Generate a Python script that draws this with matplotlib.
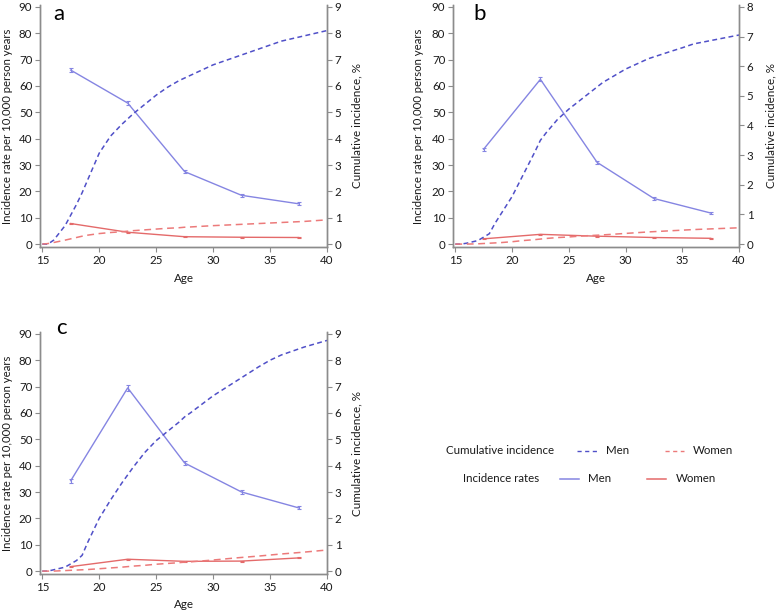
import matplotlib
matplotlib.use("Agg")
import matplotlib.pyplot as plt
from matplotlib.lines import Line2D

plt.rcParams['font.family'] = ['Lato', 'DejaVu Sans']

# ---- data ----
rate_ages = [17.5, 22.5, 27.5, 32.5, 37.5]

a_rate_men = [66.0, 53.5, 27.5, 18.5, 15.3]
a_rate_women = [7.8, 4.5, 2.8, 2.6, 2.5]
b_rate_men = [36.0, 62.5, 31.0, 17.3, 11.8]
b_rate_women = [2.0, 3.7, 3.0, 2.5, 2.2]
c_rate_men = [34.3, 69.5, 41.0, 30.0, 24.0]
c_rate_women = [1.7, 4.5, 3.7, 3.8, 5.0]

a_rate_men_err = [0.8, 0.8, 0.6, 0.5, 0.5]
a_rate_women_err = [0.3, 0.2, 0.2, 0.2, 0.2]
b_rate_men_err = [0.5, 0.8, 0.5, 0.4, 0.4]
b_rate_women_err = [0.2, 0.2, 0.2, 0.2, 0.2]
c_rate_men_err = [0.7, 1.0, 0.7, 0.6, 0.6]
c_rate_women_err = [0.2, 0.2, 0.2, 0.2, 0.2]

cum_ages = [15.0, 15.5, 16, 17, 18, 18.5, 19, 20, 21, 22, 22.5, 23, 24, 25, 26, 27, 27.5, 28, 30, 32, 34, 35, 36, 38, 40]
a_cum_men = [0.0, 0.0, 0.15, 0.7, 1.5, 1.95, 2.45, 3.45, 4.1, 4.55, 4.75, 4.95, 5.3, 5.65, 5.95, 6.2, 6.3, 6.4, 6.8, 7.1, 7.4, 7.55, 7.7, 7.9, 8.1]
a_cum_women = [0.0, 0.02, 0.06, 0.15, 0.25, 0.3, 0.34, 0.4, 0.44, 0.47, 0.49, 0.51, 0.54, 0.57, 0.6, 0.62, 0.64, 0.65, 0.7, 0.74, 0.78, 0.8, 0.82, 0.86, 0.92]
b_cum_men = [0.0, 0.0, 0.03, 0.12, 0.35, 0.7, 1.0, 1.6, 2.35, 3.1, 3.5, 3.75, 4.2, 4.55, 4.85, 5.15, 5.3, 5.45, 5.9, 6.25, 6.5, 6.62, 6.75, 6.9, 7.05]
b_cum_women = [0.0, 0.0, 0.0, 0.01, 0.03, 0.04, 0.05, 0.08, 0.12, 0.15, 0.17, 0.19, 0.22, 0.24, 0.27, 0.29, 0.3, 0.31, 0.36, 0.41, 0.45, 0.47, 0.49, 0.52, 0.55]
c_cum_men = [0.0, 0.0, 0.05, 0.15, 0.4, 0.6, 1.1, 2.0, 2.7, 3.35, 3.65, 3.95, 4.5, 4.95, 5.3, 5.65, 5.85, 6.0, 6.65, 7.2, 7.75, 8.0, 8.2, 8.5, 8.75]
c_cum_women = [0.0, 0.0, 0.0, 0.02, 0.04, 0.05, 0.06, 0.09, 0.12, 0.15, 0.17, 0.19, 0.22, 0.26, 0.29, 0.32, 0.34, 0.35, 0.42, 0.5, 0.57, 0.61, 0.65, 0.72, 0.8]

x_ticks = [15, 20, 25, 30, 35, 40]
left_ticks = [0, 10, 20, 30, 40, 50, 60, 70, 80, 90]

panels = [
    ("a", a_rate_men, a_rate_women, a_rate_men_err, a_rate_women_err, a_cum_men, a_cum_women, 9),
    ("b", b_rate_men, b_rate_women, b_rate_men_err, b_rate_women_err, b_cum_men, b_cum_women, 8),
    ("c", c_rate_men, c_rate_women, c_rate_men_err, c_rate_women_err, c_cum_men, c_cum_women, 9),
]

# ---- styling ----
W, H = 778, 612
BLUE_SOLID = "#8585e2"
BLUE_DASH = "#5050c8"
RED_SOLID = "#e46a6a"
RED_DASH = "#ec7a7a"
SPINE = "#8c8c8c"
TXT = "#1a1a1a"
FS_TICK = 8.3
FS_LLAB = 8.2
FS_RLAB = 8.4
FS_AGE = 8.4
FS_LEG = 8.3

fig = plt.figure(figsize=(W / 100, H / 100), dpi=100)

boxes = {
    "a": (40, 327, 5, 247),
    "b": (453, 739, 5, 247),
    "c": (40, 327, 332, 574),
}
label_pos = {"a": (53, 14), "b": (473, 14), "c": (56, 328)}
ylab_x = {"a": (8, 357), "b": (418, 771), "c": (8, 357)}

for name, rm, rw, rme, rwe, cm, cw, rmax in panels:
    x0, x1, y0, y1 = boxes[name]
    ax = fig.add_axes([x0 / W, 1 - y1 / H, (x1 - x0) / W, (y1 - y0) / H])
    lo, hi = -1.1, 90.7
    ax.set_xlim(14.8, 40)
    ax.set_ylim(lo, hi)
    ax2 = ax.twinx()
    ax2.set_ylim(lo * rmax / 90, hi * rmax / 90)

    ax.errorbar(rate_ages, rm, yerr=rme, color=BLUE_SOLID, lw=1.0, capsize=1.5,
                elinewidth=0.8, capthick=0.8, zorder=3)
    ax.errorbar(rate_ages, rw, yerr=rwe, color=RED_SOLID, lw=1.0, capsize=1.5,
                elinewidth=0.8, capthick=0.8, zorder=3)
    ax2.plot(cum_ages, cm, color=BLUE_DASH, lw=1.1, ls=(0, (3.2, 2.2)))
    ax2.plot(cum_ages, cw, color=RED_DASH, lw=1.1, ls=(0, (4.5, 3)))

    ax.set_xticks(x_ticks)
    ax.set_yticks(left_ticks)
    ax2.set_yticks(list(range(0, rmax + 1)))
    for a_ in (ax, ax2):
        for s in a_.spines.values():
            s.set_color(SPINE)
            s.set_linewidth(1.0)
        a_.spines['top'].set_visible(False)
        a_.tick_params(colors=SPINE, labelcolor=TXT, labelsize=FS_TICK, length=3.5, width=0.8, pad=2)
    wpx = x1 - x0
    hpx = y1 - y0
    ax.set_xlabel("Age", fontsize=FS_AGE, color=TXT, va="center")
    ax.xaxis.set_label_coords(0.5, -31 / hpx)
    ax.set_ylabel("Incidence rate per 10,000 person years", fontsize=FS_LLAB, color=TXT, va="center")
    ax.yaxis.set_label_coords((ylab_x[name][0] - x0) / wpx, 0.5)
    ax2.set_ylabel("Cumulative incidence, %", fontsize=FS_RLAB, color=TXT, va="center")
    ax2.yaxis.set_label_coords((ylab_x[name][1] - x0) / wpx, 0.5)
    fig.text(label_pos[name][0] / W, 1 - label_pos[name][1] / H, name, fontsize=16,
             ha="left", va="center", color="#000000")

# ---- legend (figure coordinates) ----
def fx(px):
    return px / W

def fy(py):
    return 1 - py / H

fig.text(fx(446), fy(451), "Cumulative incidence", fontsize=FS_LEG, va="center", ha="left", color=TXT)
fig.add_artist(Line2D([fx(577), fx(597)], [fy(451), fy(451)], color=BLUE_DASH, lw=1.0, ls=(0, (3, 2.5))))
fig.text(fx(606), fy(451), "Men", fontsize=FS_LEG, va="center", ha="left", color=TXT)
fig.add_artist(Line2D([fx(665), fx(684)], [fy(451), fy(451)], color=RED_DASH, lw=1.0, ls=(0, (3, 2.5))))
fig.text(fx(693), fy(451), "Women", fontsize=FS_LEG, va="center", ha="left", color=TXT)

fig.text(fx(463), fy(479), "Incidence rates", fontsize=FS_LEG, va="center", ha="left", color=TXT)
fig.add_artist(Line2D([fx(560), fx(579)], [fy(479), fy(479)], color=BLUE_SOLID, lw=1.1))
fig.text(fx(588), fy(479), "Men", fontsize=FS_LEG, va="center", ha="left", color=TXT)
fig.add_artist(Line2D([fx(647), fx(666)], [fy(479), fy(479)], color=RED_SOLID, lw=1.1))
fig.text(fx(676), fy(479), "Women", fontsize=FS_LEG, va="center", ha="left", color=TXT)

fig.savefig("out.png", dpi=100)
